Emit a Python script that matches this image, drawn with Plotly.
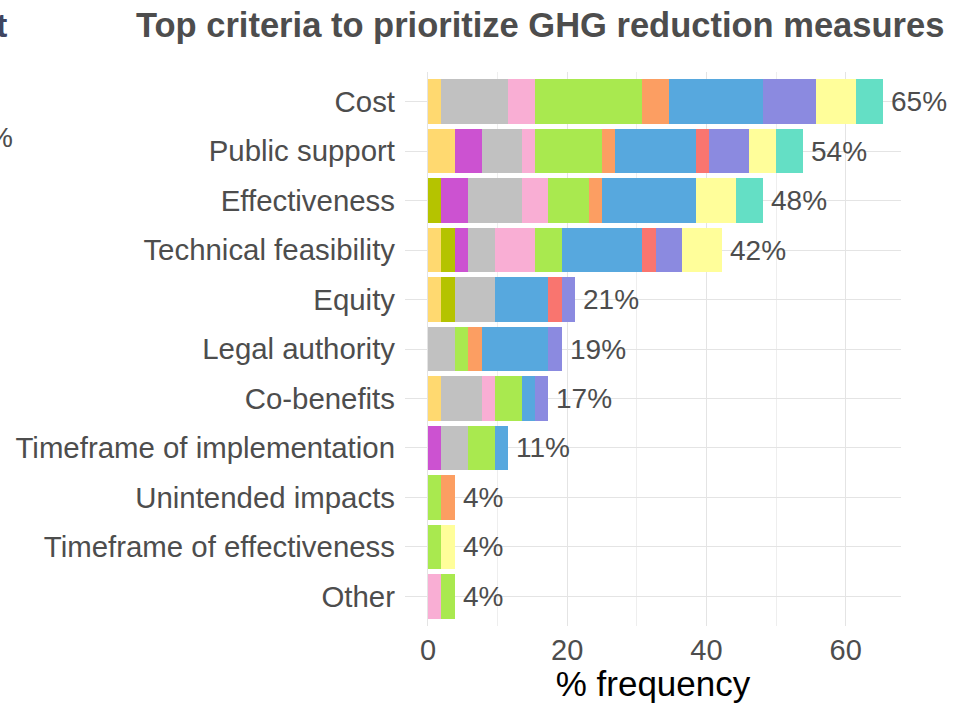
import plotly.graph_objects as go

# Criteria (top to bottom)
criteria = ["Cost", "Public support", "Effectiveness", "Technical feasibility", "Equity",
            "Legal authority", "Co-benefits", "Timeframe of implementation",
            "Unintended impacts", "Timeframe of effectiveness", "Other"]

# Number of respondents (denominator for % frequency)
n_respondents = 52

# Counts per response group (one list per coloured group, aligned with criteria)
group_1 = [1, 2, 0, 1, 1, 0, 1, 0, 0, 0, 0]
group_2 = [0, 0, 1, 1, 1, 0, 0, 0, 0, 0, 0]
group_3 = [0, 2, 2, 1, 0, 0, 0, 1, 0, 0, 0]
group_4 = [5, 3, 4, 2, 3, 2, 3, 2, 0, 0, 0]
group_5 = [2, 1, 2, 3, 0, 0, 1, 0, 0, 0, 1]
group_6 = [8, 5, 3, 2, 0, 1, 2, 2, 1, 1, 1]
group_7 = [2, 1, 1, 0, 0, 1, 0, 0, 1, 0, 0]
group_8 = [7, 6, 7, 6, 4, 5, 1, 1, 0, 0, 0]
group_9 = [0, 1, 0, 1, 1, 0, 0, 0, 0, 0, 0]
group_10 = [4, 3, 0, 2, 1, 1, 1, 0, 0, 0, 0]
group_11 = [3, 2, 3, 3, 0, 0, 0, 0, 0, 1, 0]
group_12 = [2, 2, 2, 0, 0, 0, 0, 0, 0, 0, 0]

# Total labels as printed on the chart
total_labels = ["65%", "54%", "48%", "42%", "21%", "19%", "17%", "11%", "4%", "4%", "4%"]

groups = [group_1, group_2, group_3, group_4, group_5, group_6,
          group_7, group_8, group_9, group_10, group_11, group_12]
group_names = ["Group %d" % (i + 1) for i in range(len(groups))]
colors = ["#FFD970", "#B5C300", "#CC52D1", "#C1C1C1", "#F9AED4", "#A9E94F",
          "#FC9E62", "#57A8DE", "#F9756F", "#8B8AE0", "#FFFE9A", "#64DFC5"]

FONT = "Liberation Sans, Arial"

fig = go.Figure()
for name, vals, col in zip(group_names, groups, colors):
    pct = [v / n_respondents * 100 for v in vals]
    fig.add_trace(go.Bar(
        y=criteria, x=pct, name=name, orientation="h",
        marker=dict(color=col, line=dict(width=0)),
        hovertemplate="%{y}: %{x:.1f}%<extra>" + name + "</extra>",
    ))

totals = [sum(g[i] for g in groups) / n_respondents * 100 for i in range(len(criteria))]
for crit, tot, lab in zip(criteria, totals, total_labels):
    fig.add_annotation(x=tot, y=crit, xref="x", yref="y", text=lab, showarrow=False,
                       xanchor="left", yanchor="middle", xshift=6,
                       font=dict(family=FONT, size=28, color="#4D4D4D"))

L, R, T, B = 405, 59, 72, 75
PW, PH = 960 - L - R, 703 - T - B

def px(xp):
    return (xp - L) / PW

def py(yp):
    return 1 - (yp - T) / PH

# Title
fig.add_annotation(x=px(540), y=py(25), xref="paper", yref="paper",
                   text="<b>Top criteria to prioritize GHG reduction measures</b>",
                   showarrow=False, xanchor="center", yanchor="middle",
                   font=dict(family=FONT, size=34.5, color="#4D4D4D"))
# Fragments of neighbouring panel visible at the left edge
fig.add_annotation(x=px(9), y=py(25), xref="paper", yref="paper", text="<b>t</b>",
                   showarrow=False, xanchor="right", yanchor="middle",
                   font=dict(family=FONT, size=34, color="#3F4560"))
fig.add_annotation(x=px(15), y=py(138), xref="paper", yref="paper", text="%",
                   showarrow=False, xanchor="right", yanchor="middle",
                   font=dict(family=FONT, size=28, color="#4D4D4D"))

fig.update_layout(
    width=960, height=703,
    margin=dict(l=L, r=R, t=T, b=B, pad=0),
    barmode="stack", bargap=0.1,
    showlegend=False,
    plot_bgcolor="white", paper_bgcolor="white",
    font=dict(family=FONT, color="#4D4D4D"),
    xaxis=dict(
        range=[-3.3, 67.95], tickvals=[0, 20, 40, 60], ticktext=["0", "20", "40", "60"],
        showgrid=True, gridcolor="#E4E4E4", gridwidth=1.3,
        minor=dict(tickvals=[10, 30, 50], showgrid=True, gridcolor="#EEEEEE", gridwidth=0.8),
        zeroline=False, showline=False, ticks="",
        tickfont=dict(size=29, color="#4D4D4D"), ticklabelstandoff=4,
        title=dict(text="% frequency", font=dict(size=35, color="black"), standoff=0),
    ),
    yaxis=dict(
        categoryorder="array", categoryarray=criteria, range=[10.6, -0.6],
        showgrid=True, gridcolor="#E4E4E4", gridwidth=1.3,
        zeroline=False, showline=False, ticks="",
        tickfont=dict(size=29.4, color="#4D4D4D"), ticklabelstandoff=9,
    ),
)

fig.write_html("out.html", config={"displayModeBar": False},
               post_script="document.body.style.margin='0px';document.body.style.overflow='hidden';")
